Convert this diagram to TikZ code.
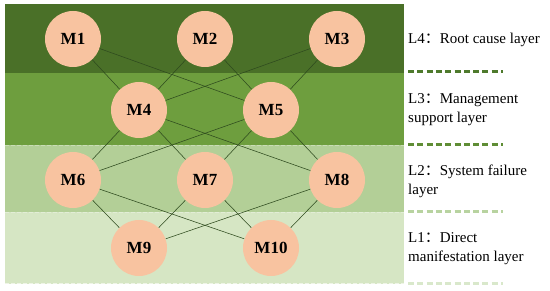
\documentclass[tikz,border=0pt]{standalone}
\usepackage{fontspec}
\setmainfont{Liberation Serif}
\newfontfamily\cjk{Noto Sans CJK SC}
\definecolor{bandA}{HTML}{4A7028}
\definecolor{bandB}{HTML}{6E9E3E}
\definecolor{bandC}{HTML}{B3CF97}
\definecolor{bandD}{HTML}{D6E6C4}
\definecolor{dashA}{HTML}{4E7A2C}
\definecolor{dashB}{HTML}{5F8D35}
\definecolor{dashC}{HTML}{B8D3A0}
\definecolor{dashD}{HTML}{D9E8CB}
\definecolor{peach}{HTML}{F8C3A0}
\definecolor{edgec}{HTML}{2E4A1E}
\newcommand{\fcolon}{{\cjk ：}}
\pgfdeclarelayer{bands}
\pgfdeclarelayer{edges}
\pgfsetlayers{bands,edges,main}
\tikzset{
  mnode/.style={circle, fill=peach, minimum size=56pt, inner sep=0pt,
    font=\fontsize{17}{19}\selectfont\bfseries},
  link/.style={draw=edgec, line width=0.55pt},
  sepdash/.style={line width=3pt, dash pattern=on 6pt off 3.3pt},
  layerlabel/.style={anchor=west, align=left, inner sep=0pt,
    font=\fontsize{15}{19}\selectfont},
  bandedge/.style={line width=1pt, dash pattern=on 4pt off 2pt}
}
\begin{document}
\begin{tikzpicture}[x=1pt,y=-1pt]
\useasboundingbox (0,0) rectangle (550,291);
\begin{pgfonlayer}{bands}
\fill[bandA] (5,4) rectangle (404,73);
\fill[bandB] (5,73) rectangle (404,145);
\fill[bandC] (5,145) rectangle (404,212);
\fill[bandD] (5,212) rectangle (404,284);
\draw[bandedge, bandC!70!white] (5,145.5) -- (404,145.5);
\draw[bandedge, bandD!70!white] (5,212.5) -- (404,212.5);
\draw[bandedge, bandD!40!white] (5,284) -- (404,284);
\end{pgfonlayer}
% right dashes
\draw[sepdash, dashA] (408,72) -- (503,72);
\draw[sepdash, dashB] (408,145) -- (503,145);
\draw[sepdash, dashC] (408,212) -- (503,212);
\draw[sepdash, dashD] (408,284) -- (503,284);
% nodes
\node[mnode] (m1) at (73,39) {M1};
\node[mnode] (m2) at (205,39) {M2};
\node[mnode] (m3) at (337,39) {M3};
\node[mnode] (m4) at (139,110) {M4};
\node[mnode] (m5) at (271,110) {M5};
\node[mnode] (m6) at (73,180) {M6};
\node[mnode] (m7) at (205,180) {M7};
\node[mnode] (m8) at (337,180) {M8};
\node[mnode] (m9) at (139,248) {M9};
\node[mnode] (m10) at (271,248) {M10};
% links
\begin{pgfonlayer}{edges}
\foreach \a/\b in {m1/m4,m1/m5,m2/m4,m2/m5,m3/m4,m3/m5,
  m4/m6,m4/m7,m4/m8,m5/m6,m5/m7,m5/m8,
  m6/m9,m6/m10,m7/m9,m7/m10,m8/m9,m8/m10}
  \draw[link] (\a) -- (\b);
\end{pgfonlayer}
% labels
\node[layerlabel] (l4) at (408,40) {L4\fcolon Root cause layer};
\node[layerlabel] (l3) at (408,110) {L3\fcolon Management\\support layer};
\node[layerlabel] (l2) at (408,181) {L2\fcolon System failure\\layer};
\node[layerlabel] (l1) at (408,249) {L1\fcolon Direct\\manifestation layer};
\end{tikzpicture}
\end{document}
